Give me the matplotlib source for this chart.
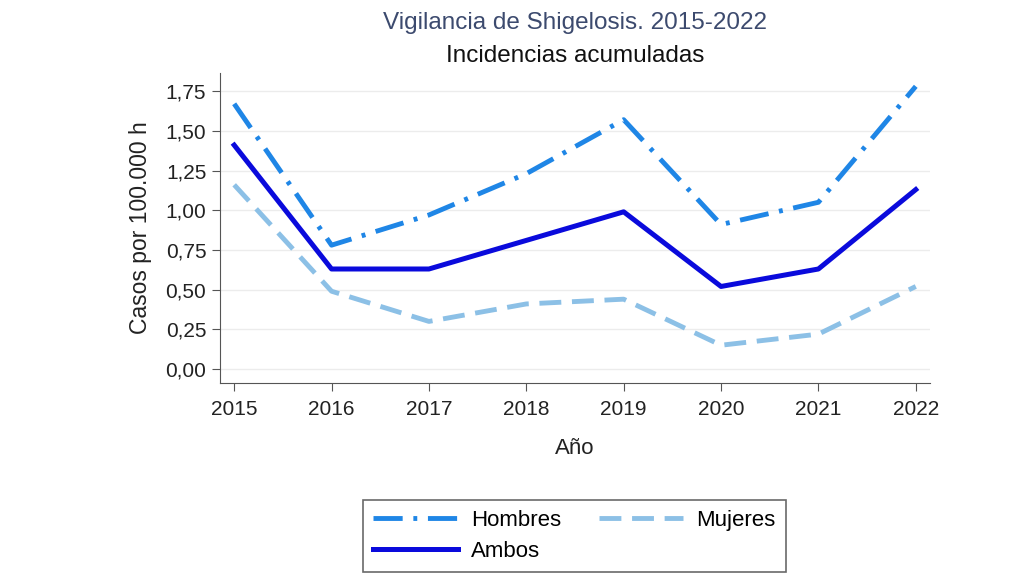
import matplotlib.pyplot as plt
from matplotlib.ticker import FuncFormatter

plt.rcParams['font.family'] = ['Liberation Sans', 'DejaVu Sans']

YEARS = [2015, 2016, 2017, 2018, 2019, 2020, 2021, 2022]
HOMBRES = [1.67, 0.78, 0.97, 1.23, 1.57, 0.91, 1.05, 1.78]
MUJERES = [1.16, 0.49, 0.30, 0.41, 0.44, 0.15, 0.22, 0.52]
AMBOS = [1.41, 0.63, 0.63, 0.81, 0.99, 0.52, 0.63, 1.13]
Y_TICKS = [0.0, 0.25, 0.5, 0.75, 1.0, 1.25, 1.5, 1.75]

fig = plt.figure(figsize=(10.24, 5.76), dpi=100)
ax = fig.add_axes([0.215, 0.335, 0.693, 0.538])

l_h, = ax.plot(YEARS, HOMBRES, color="#1f86e6", lw=3.5, label="Hombres",
               dashes=(6, 2.2, 0.8, 2.2))
l_m, = ax.plot(YEARS, MUJERES, color="#8cc0e6", lw=3.5, label="Mujeres",
               dashes=(4.5, 2.2))
l_a, = ax.plot(YEARS, AMBOS, color="#0a0adc", lw=3.6, label="Ambos")

ax.set_xlim(2014.856, 2022.144)
ax.set_ylim(-0.088, 1.863)
ax.set_xticks(YEARS)
ax.set_yticks(Y_TICKS)
ax.yaxis.set_major_formatter(FuncFormatter(lambda v, p: f"{v:.2f}".replace(".", ",")))
ax.grid(axis="y", color="#ececec", lw=1)
ax.set_axisbelow(True)
for s in ["top", "right"]:
    ax.spines[s].set_visible(False)
for s in ["left", "bottom"]:
    ax.spines[s].set_color("#555555")
ax.tick_params(colors="#555555", labelcolor="#222222", labelsize=15, length=6)
ax.tick_params(axis="x", pad=6)
ax.tick_params(axis="y", pad=4)

ax.set_xlabel("Año", fontsize=16, color="#222222", labelpad=14)
ax.set_ylabel("Casos por 100.000 h", fontsize=16.5, color="#222222", labelpad=10)

fig.text(0.562, 0.960, "Vigilancia de Shigelosis. 2015-2022", ha="center", va="center",
         fontsize=17.5, color="#3c4a6e")
fig.text(0.562, 0.903, "Incidencias acumuladas", ha="center", va="center",
         fontsize=17.5, color="#111111")

leg = fig.legend(handles=[l_h, l_a, l_m], ncol=2, loc="center",
                 bbox_to_anchor=(0.561, 0.0703), fontsize=16, frameon=True,
                 fancybox=False, handlelength=3.8, columnspacing=1.7,
                 borderpad=0.45, labelspacing=0.45, handletextpad=0.6)
leg.get_frame().set_edgecolor("#444444")
leg.get_frame().set_linewidth(1.2)

fig.savefig("out.png", dpi=100)
